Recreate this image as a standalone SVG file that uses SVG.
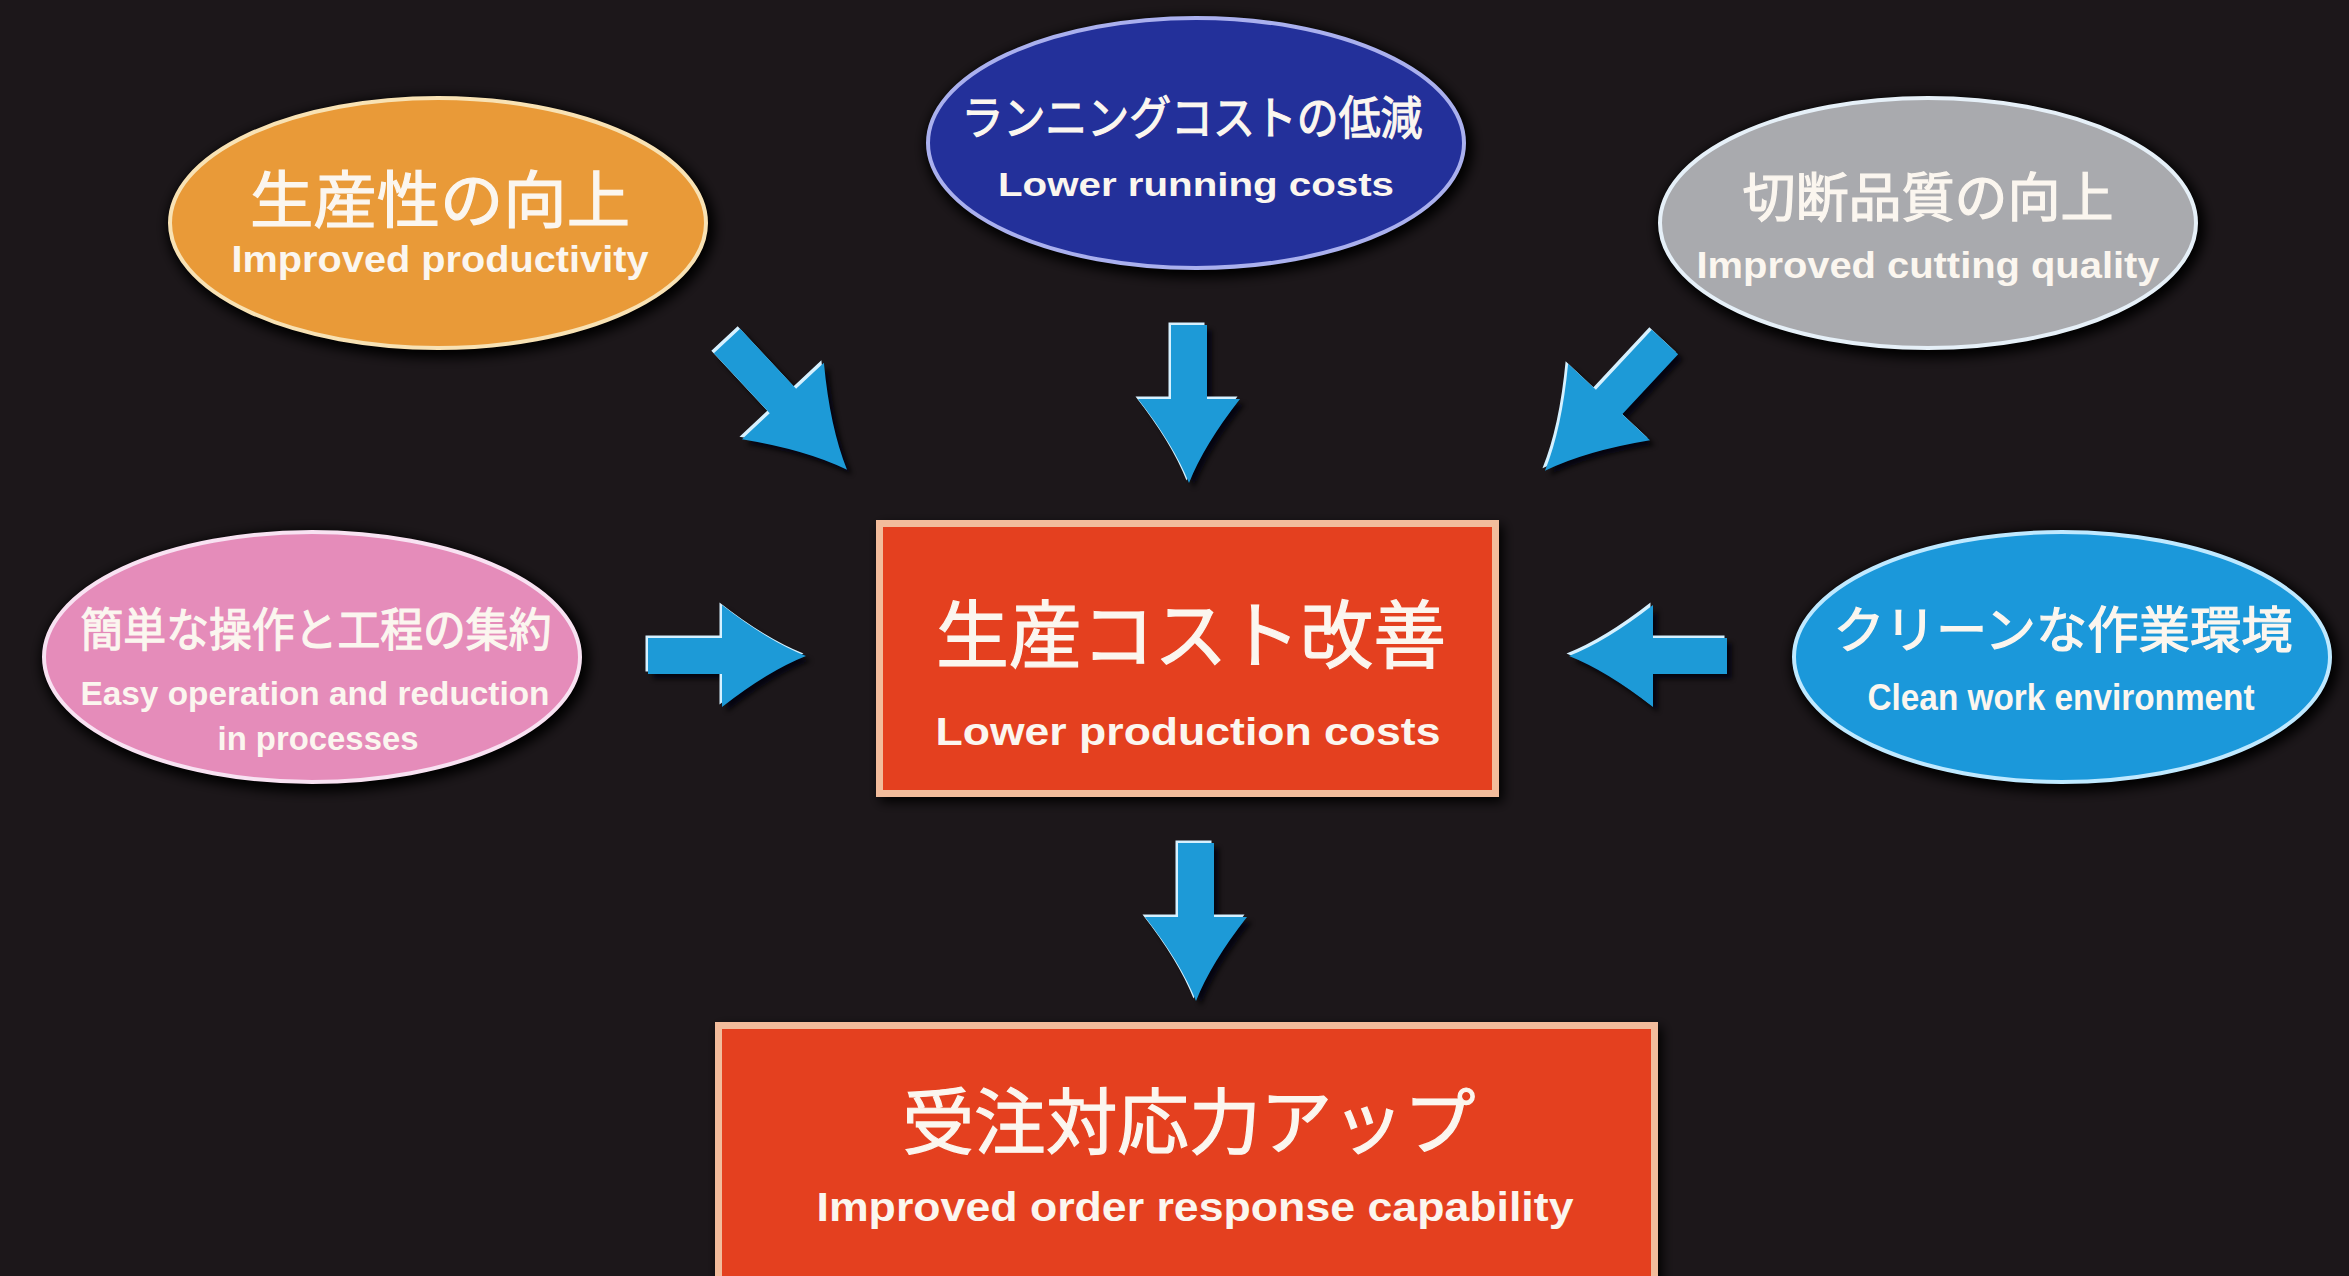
<svg xmlns="http://www.w3.org/2000/svg" xmlns:xlink="http://www.w3.org/1999/xlink" width="2349" height="1276" viewBox="0 0 2349 1276">
<style>
.jp{font-family:"Noto Sans CJK JP","Noto Sans CJK SC",sans-serif;fill:#fbf6ef;stroke:#fbf6ef;stroke-width:1.2;text-anchor:middle}
.en{font-family:"Liberation Sans",Arial,sans-serif;font-weight:bold;fill:#fbf6ef;text-anchor:middle}
.box{fill:#e4401f;stroke:#f2bc9c;stroke-width:7}
.rim{stroke-width:4}
.ashadow{fill:#050507;opacity:0.85}
.ahi{fill:#d6f1ff}
.afill{fill:#1d9ad7}
</style>
<defs>
<filter id="blur" x="-20%" y="-20%" width="140%" height="140%"><feGaussianBlur stdDeviation="6"/></filter>
<filter id="blur2" x="-20%" y="-20%" width="140%" height="140%"><feGaussianBlur stdDeviation="2.5"/></filter>
<path id="arS" d="M0,-18 L74,-18 L74,-51 Q120,-15 158,0 Q120,15 74,51 L74,18 L0,18 Z"/>
<path id="arD" d="M0,-18 L82,-18 L82,-56 Q134,-16 176,0 Q134,16 82,56 L82,18 L0,18 Z"/>
</defs>
<rect x="0" y="0" width="2349" height="1276" fill="#1c171a"/>

<g id="n-productivity">
<ellipse cx="441" cy="227" rx="274" ry="131" fill="#060506" filter="url(#blur)"/>
<ellipse cx="438" cy="223" rx="268" ry="125" fill="#e99a38" stroke="#f8e2b4" class="rim"/>
<text class="jp" x="440" y="223" font-size="62" textLength="380" lengthAdjust="spacingAndGlyphs">生産性の向上</text>
<text class="en" x="440" y="272" font-size="36" textLength="417" lengthAdjust="spacingAndGlyphs">Improved productivity</text>
</g>

<g id="n-running">
<ellipse cx="1199" cy="147" rx="274" ry="131" fill="#060506" filter="url(#blur)"/>
<ellipse cx="1196" cy="143" rx="268" ry="125" fill="#23309a" stroke="#aab0ee" class="rim"/>
<text class="jp" x="1192" y="134" font-size="46" textLength="461" lengthAdjust="spacingAndGlyphs">ランニングコストの低減</text>
<text class="en" x="1196" y="196" font-size="34" textLength="396" lengthAdjust="spacingAndGlyphs">Lower running costs</text>
</g>

<g id="n-cutting">
<ellipse cx="1931" cy="227" rx="274" ry="131" fill="#060506" filter="url(#blur)"/>
<ellipse cx="1928" cy="223" rx="268" ry="125" fill="#a9aaae" stroke="#e6f0f8" class="rim"/>
<text class="jp" x="1928" y="217" font-size="53" textLength="371" lengthAdjust="spacingAndGlyphs">切断品質の向上</text>
<text class="en" x="1928" y="278" font-size="37" textLength="463" lengthAdjust="spacingAndGlyphs">Improved cutting quality</text>
</g>

<g id="n-easy">
<ellipse cx="315" cy="661" rx="274" ry="131" fill="#060506" filter="url(#blur)"/>
<ellipse cx="312" cy="657" rx="268" ry="125" fill="#e58cba" stroke="#f8e2f2" class="rim"/>
<text class="jp" x="316" y="646" font-size="46" textLength="471" lengthAdjust="spacingAndGlyphs">簡単な操作と工程の集約</text>
<text class="en" x="315" y="705" font-size="34" textLength="469" lengthAdjust="spacingAndGlyphs">Easy operation and reduction</text>
<text class="en" x="318" y="750" font-size="34" textLength="201" lengthAdjust="spacingAndGlyphs">in processes</text>
</g>

<g id="n-clean">
<ellipse cx="2065" cy="661" rx="274" ry="131" fill="#060506" filter="url(#blur)"/>
<ellipse cx="2062" cy="657" rx="268" ry="125" fill="#1b98da" stroke="#bfe9ff" class="rim"/>
<text class="jp" x="2063" y="648" font-size="50" textLength="459" lengthAdjust="spacingAndGlyphs">クリーンな作業環境</text>
<text class="en" x="2061" y="710" font-size="36" textLength="387" lengthAdjust="spacingAndGlyphs">Clean work environment</text>
</g>

<g id="n-production">
<rect x="876" y="520" width="623" height="277" fill="#060506" filter="url(#blur)" transform="translate(4,5)"/>
<rect class="box" x="879.5" y="523.5" width="616" height="270"/>
<text class="jp" x="1191" y="662" font-size="74" textLength="510" lengthAdjust="spacingAndGlyphs">生産コスト改善</text>
<text class="en" x="1188" y="745" font-size="38" textLength="505" lengthAdjust="spacingAndGlyphs">Lower production costs</text>
</g>

<g id="n-order">
<rect x="715" y="1022" width="943" height="280" fill="#060506" filter="url(#blur)" transform="translate(4,5)"/>
<rect class="box" x="718.5" y="1025.5" width="936" height="270"/>
<text class="jp" x="1189" y="1148" font-size="72" textLength="573" lengthAdjust="spacingAndGlyphs">受注対応力アップ</text>
<text class="en" x="1195" y="1221" font-size="40" textLength="757" lengthAdjust="spacingAndGlyphs">Improved order response capability</text>
</g>

<g id="connectors">
<g filter="url(#blur2)" class="ashadow">
<use xlink:href="#arD" transform="translate(732,346) rotate(47)"/>
<use xlink:href="#arS" transform="translate(1194,330) rotate(90)"/>
<use xlink:href="#arD" transform="translate(1670,347) rotate(133)"/>
<use xlink:href="#arS" transform="translate(653,661)"/>
<use xlink:href="#arS" transform="translate(1732,661) rotate(180)"/>
<use xlink:href="#arS" transform="translate(1201,848) rotate(90)"/>
</g>
<g class="ahi" transform="translate(-2.5,-2.5)">
<use xlink:href="#arD" transform="translate(727,341) rotate(47)"/>
<use xlink:href="#arS" transform="translate(1189,325) rotate(90)"/>
<use xlink:href="#arD" transform="translate(1665,342) rotate(133)"/>
<use xlink:href="#arS" transform="translate(648,656)"/>
<use xlink:href="#arS" transform="translate(1727,656) rotate(180)"/>
<use xlink:href="#arS" transform="translate(1196,843) rotate(90)"/>
</g>
<g class="afill">
<use xlink:href="#arD" transform="translate(727,341) rotate(47)"/>
<use xlink:href="#arS" transform="translate(1189,325) rotate(90)"/>
<use xlink:href="#arD" transform="translate(1665,342) rotate(133)"/>
<use xlink:href="#arS" transform="translate(648,656)"/>
<use xlink:href="#arS" transform="translate(1727,656) rotate(180)"/>
<use xlink:href="#arS" transform="translate(1196,843) rotate(90)"/>
</g>
</g>
</svg>
